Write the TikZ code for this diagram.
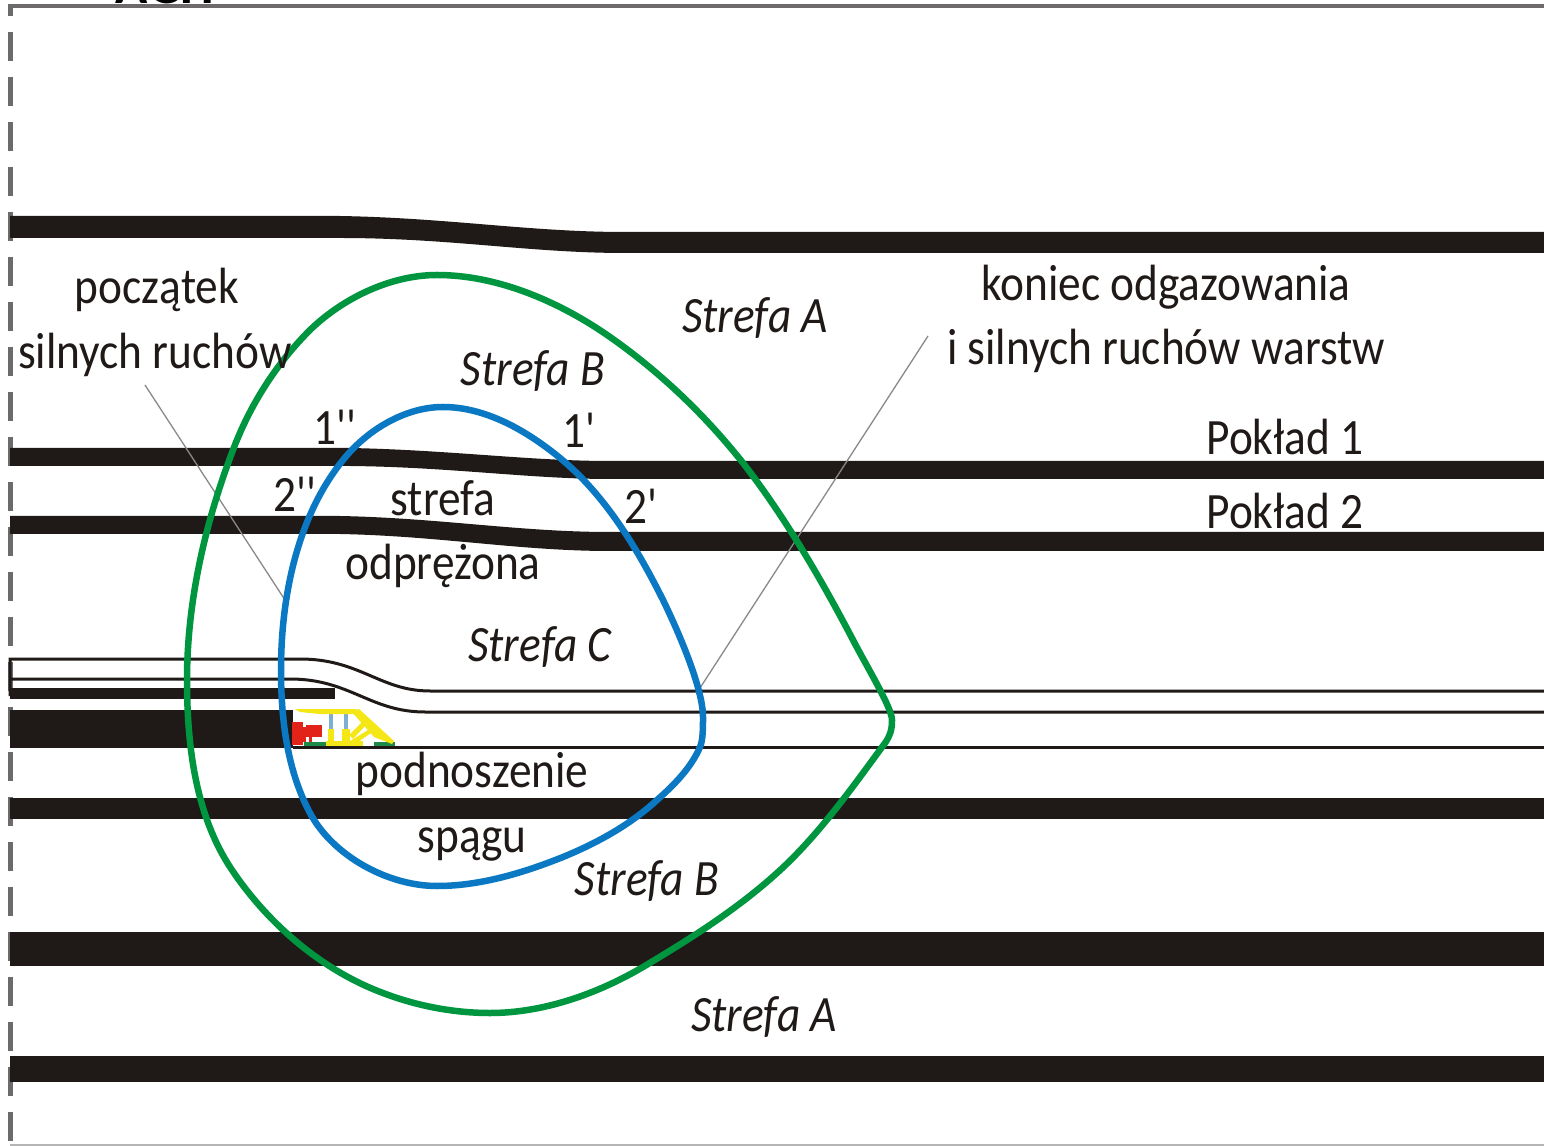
\documentclass[tikz,border=0pt]{standalone}
\usepackage{fontspec}
\setmainfont{Carlito}[FakeStretch=0.89]
\newfontfamily\primefont{Carlito}[FakeStretch=0.89]
\usepackage{xcolor}
\definecolor{seam}{HTML}{1F1A17}
\definecolor{zoneA}{HTML}{009640}
\definecolor{zoneB}{HTML}{0A78C2}
\definecolor{frameGray}{HTML}{6D6A6B}
\definecolor{roofYellow}{HTML}{F5E616}
\definecolor{legBlue}{HTML}{7FAFD0}
\definecolor{unitRed}{HTML}{E2231A}
\definecolor{skidGreen}{HTML}{1E8A4A}
\tikzset{
  lbl/.style={font=\fontsize{14.5}{16}\selectfont, text=seam, inner sep=0pt},
  zonelbl/.style={lbl, font=\fontsize{14.5}{16}\selectfont\itshape},
  primelbl/.style={lbl, font=\fontsize{14.5}{16}\selectfont\primefont},
  leader/.style={draw=frameGray!80, line width=0.13mm},
  zoneline/.style={line width=0.65mm, line join=round}
}
\begin{document}
\begin{tikzpicture}[x=0.1mm, y=-0.1mm]
        \useasboundingbox (0,0) rectangle (1544,1146);
        \fill[white] (0,0) rectangle (1544,1146);
        % Title cut by the top edge
        \node[font=\fontsize{17}{18}\selectfont\bfseries, anchor=base, text=black, inner sep=0pt] (title) at (165,4) {AGH};
        % Frame
        \draw[frameGray, line width=0.4mm] (8,6) -- (1544,6);
        \draw[frameGray, line width=0.5mm, dash pattern=on 2.9mm off 1.6mm, dash phase=1.9mm] (10,6) -- (10,1146);
        \draw[frameGray!50, line width=0.15mm] (10,1145) -- (1544,1145);
        % Upper seams
        \fill[seam] (10,216) -- (340,216) .. controls (450,218) and (530,232) .. (625,232) -- (1544,232)
                    -- (1544,253) -- (625,253) .. controls (530,253) and (450,238) .. (340,238) -- (10,238) -- cycle;
        \fill[seam] (10,448) -- (350,448) .. controls (450,450) and (530,461) .. (610,461) -- (1544,461)
                    -- (1544,479) -- (610,479) .. controls (530,479) and (450,467) .. (350,466) -- (10,466) -- cycle;
        \fill[seam] (10,516) -- (340,516) .. controls (440,518) and (520,532) .. (610,532) -- (1544,532)
                    -- (1544,551) -- (610,551) .. controls (520,551) and (440,536) .. (340,534) -- (10,534) -- cycle;
        % Roof strata over the working
        \draw[seam, line width=0.3mm] (10,696) -- (10,659) -- (300,659) .. controls (360,659) and (380,691) .. (430,691) -- (1544,691);
        \draw[seam, line width=0.3mm] (10,679) -- (290,679) .. controls (350,679) and (370,712) .. (425,712) -- (1544,712);
        \fill[seam] (10,688) rectangle (335,699);
        % Worked seam
        \fill[seam] (10,710) rectangle (293,748);
        \draw[seam, line width=0.3mm] (293,747) -- (1544,747);
        % Lower seams
        \fill[seam] (10,798) rectangle (1544,819);
        \fill[seam] (10,932) rectangle (1544,966);
        \fill[seam] (10,1056) rectangle (1544,1082);
        % Shearer and shield support
        \fill[unitRed] (292,722) rectangle (303,745);
        \fill[unitRed] (303,727) rectangle (306,742);
        \fill[unitRed] (306,725) rectangle (322,737);
        \fill[unitRed] (309,737) rectangle (312,744);
        \fill[skidGreen] (304,742) rectangle (326,746);
        \fill[skidGreen] (374,742) rectangle (395,746);
        \fill[legBlue] (329,713) rectangle (333,729);
        \fill[legBlue] (344,713) rectangle (348,729);
        \fill[roofYellow] (295,709) -- (356,709) -- (356,714) -- (320,714) -- (300,712) -- cycle;
        \fill[roofYellow] (351,711) -- (359,709) -- (394,741) -- (392,744) -- (374,737) -- cycle;
        \fill[roofYellow] (328,729) rectangle (334,742);
        \fill[roofYellow] (342,729) rectangle (350,742);
        \fill[roofYellow] (326,741) rectangle (363,746);
        \fill[roofYellow] (349,735) -- (362,722) -- (366,725) -- (353,739) -- cycle;
        \fill[roofYellow] (350,741) -- (368,730) -- (371,733) -- (358,742) -- cycle;
        % Leaders
        \coordinate (startA) at (145,385);
        \coordinate (startB) at (285,600);
        \coordinate (endA) at (928,336);
        \coordinate (endB) at (700,688);
        \draw[leader] (startA) -- (startB);
        \draw[leader] (endA) -- (endB);
        % Zones
        \draw[zoneA, zoneline] (892,720) .. controls (892,708) and (867,667) .. (853,640)
          .. controls (821,579) and (785,517) .. (743,463)
          .. controls (705,415) and (660,372) .. (610,337)
          .. controls (560,302) and (498,275) .. (437,275)
          .. controls (391,275) and (343,298) .. (310,330)
          .. controls (276,364) and (250,405) .. (233,450)
          .. controls (205,523) and (187,602) .. (187,680)
          .. controls (187,744) and (195,813) .. (230,867)
          .. controls (266,922) and (321,970) .. (383,993)
          .. controls (417,1006) and (454,1013) .. (490,1013)
          .. controls (543,1013) and (597,994) .. (643,967)
          .. controls (690,939) and (736,910) .. (777,873)
          .. controls (818,836) and (852,788) .. (885,743)
          .. controls (890,736) and (892,730) .. cycle;
        \draw[zoneB, zoneline] (703,717) .. controls (703,690) and (681,637) .. (663,600)
          .. controls (637,548) and (605,495) .. (560,458)
          .. controls (527,431) and (486,407) .. (443,407)
          .. controls (405,407) and (367,430) .. (343,460)
          .. controls (297,517) and (281,597) .. (281,670)
          .. controls (281,719) and (287,770) .. (310,813)
          .. controls (333,856) and (388,886) .. (437,886)
          .. controls (480,886) and (523,873) .. (563,857)
          .. controls (597,843) and (630,825) .. (657,800)
          .. controls (674,785) and (691,768) .. (700,747)
          .. controls (703,740) and (703,728) .. cycle;
        % Labels
        \node[lbl] (start1) at (157,290) {początek};
        \node[lbl] (start2) at (155,355) {silnych ruchów};
        \node[lbl] (end1) at (1166,287) {koniec odgazowania};
        \node[lbl] (end2) at (1166,351) {i silnych ruchów warstw};
        \node[lbl] (seam1) at (1285,437) {Pokład 1};
        \node[lbl] (seam2) at (1285,511) {Pokład 2};
        \node[primelbl] (p1a) at (335,427) {1''};
        \node[primelbl] (p1b) at (579,430) {1'};
        \node[primelbl] (p2a) at (295,494) {2''};
        \node[primelbl] (p2b) at (641,506) {2'};
        \node[lbl] (relief1) at (443,498) {strefa};
        \node[lbl] (relief2) at (443,566) {odprężona};
        \node[lbl] (heave1) at (472,774) {podnoszenie};
        \node[lbl] (heave2) at (472,844) {spągu};
        \node[zonelbl] (zoneA1) at (755,318) {Strefa A};
        \node[zonelbl] (zoneA2) at (764,1017) {Strefa A};
        \node[zonelbl] (zoneB1) at (533,371) {Strefa B};
        \node[zonelbl] (zoneB2) at (647,881) {Strefa B};
        \node[zonelbl] (zoneC) at (540,647) {Strefa C};
    \end{tikzpicture}
\end{document}
